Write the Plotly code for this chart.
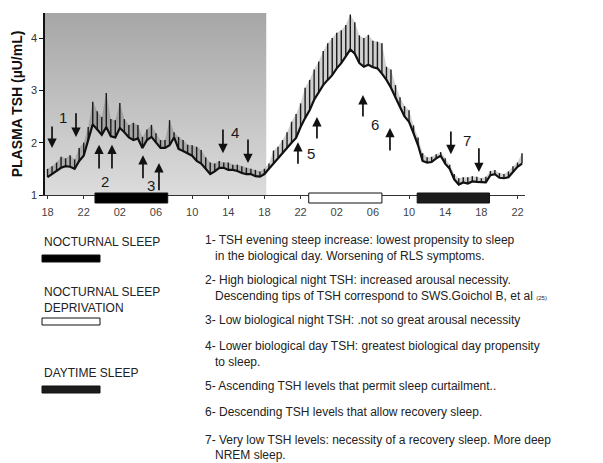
import plotly.graph_objects as go

# ---------------- data ----------------
# hours since 18:00 of day 1, every 30 min
hours = [i * 0.5 for i in range(106)]
tick_vals = [0, 4, 8, 12, 16, 20, 24, 28, 32, 36, 40, 44, 48, 52]
tick_text = ["18", "22", "02", "06", "10", "14", "18", "22", "02", "06", "10", "14", "18", "22"]

tsh_mean = [1.34, 1.40, 1.45, 1.52, 1.55, 1.54, 1.50, 1.65, 1.75, 2.05,
            2.35, 2.25, 2.15, 2.30, 2.12, 2.10, 2.28, 2.20, 2.10, 2.05,
            2.08, 1.90, 2.05, 2.11, 2.00, 1.90, 1.90, 1.95, 2.10, 1.88,
            1.84, 1.80, 1.75, 1.65, 1.60, 1.50, 1.40, 1.45, 1.52, 1.52,
            1.48, 1.48, 1.46, 1.42, 1.40, 1.40, 1.36, 1.35, 1.40, 1.50,
            1.60, 1.72, 1.80, 1.90, 2.00, 2.09, 2.30, 2.47, 2.62, 2.82,
            2.95, 3.10, 3.20, 3.29, 3.42, 3.52, 3.65, 3.78, 3.70, 3.52,
            3.45, 3.49, 3.44, 3.42, 3.32, 3.20, 3.05, 2.85, 2.68, 2.50,
            2.40, 2.18, 1.95, 1.65, 1.62, 1.63, 1.70, 1.75, 1.60, 1.50,
            1.30, 1.20, 1.24, 1.22, 1.26, 1.25, 1.24, 1.24, 1.38, 1.40,
            1.33, 1.32, 1.34, 1.45, 1.54, 1.60]
tsh_upper = [1.50, 1.55, 1.62, 1.73, 1.70, 1.76, 1.68, 1.90, 2.00, 2.30,
             2.78, 2.60, 2.49, 2.95, 2.45, 2.43, 2.76, 2.45, 2.34, 2.38,
             2.34, 2.11, 2.25, 2.34, 2.18, 2.05, 2.05, 2.43, 2.20, 2.11,
             2.05, 1.96, 1.95, 1.92, 1.86, 1.72, 1.62, 1.60, 1.65, 1.62,
             1.62, 1.58, 1.58, 1.55, 1.52, 1.50, 1.48, 1.45, 1.50, 1.60,
             1.85, 1.92, 2.05, 2.20, 2.40, 2.55, 2.75, 3.05, 3.20, 3.40,
             3.55, 3.75, 3.90, 4.00, 4.10, 4.15, 4.25, 4.45, 4.30, 4.05,
             4.00, 4.06, 3.95, 3.93, 3.90, 3.45, 3.40, 3.10, 2.87, 2.70,
             2.62, 2.33, 2.10, 1.80, 1.72, 1.73, 1.78, 1.82, 1.70, 1.58,
             1.40, 1.32, 1.34, 1.34, 1.36, 1.35, 1.32, 1.35, 1.46, 1.48,
             1.42, 1.40, 1.45, 1.55, 1.62, 1.80]

# sleep periods (start hour, end hour)
night_sleep = (5.25, 13.3)
sleep_deprivation = (28.9, 37.0)
daytime_sleep = (40.9, 48.9)
baseline_shade_end = 24.2

# arrows: (hour, tail value, head value)
arrows = [(0.5, 2.34, 1.90), (3.15, 2.59, 2.11),
          (5.70, 1.48, 1.96), (7.13, 1.48, 1.96),
          (10.56, 1.29, 1.76), (12.33, 1.06, 1.61),
          (19.41, 2.28, 1.80), (22.18, 2.09, 1.61),
          (27.71, 1.57, 2.01), (29.81, 2.05, 2.49),
          (34.9, 2.47, 2.91), (37.89, 1.82, 2.28),
          (44.63, 2.24, 1.78), (47.73, 1.92, 1.44)]
arrow_labels = [("1", 1.71, 2.49), ("2", 6.36, 1.25), ("3", 11.45, 1.19),
                ("4", 20.74, 2.20), ("5", 29.15, 1.80), ("6", 36.23, 2.34),
                ("7", 46.4, 2.05)]

legend_items = ["NOCTURNAL SLEEP", "NOCTURNAL SLEEP<br>DEPRIVATION", "DAYTIME SLEEP"]
notes = [
    "1- TSH evening steep increase: lowest propensity to sleep",
    "   in the biological day. Worsening of RLS symptoms.",
    "2- High biological night TSH: increased arousal necessity.",
    "   Descending tips of TSH correspond to SWS.Goichol B, et al <span style='font-size:6px'>(25)</span>",
    "3- Low biological night TSH: .not so great arousal necessity",
    "4- Lower biological day TSH: greatest biological day propensity",
    "   to sleep.",
    "5- Ascending TSH levels that permit sleep curtailment..",
    "6- Descending TSH levels that allow recovery sleep.",
    "7- Very low TSH levels: necessity of a recovery sleep. More deep",
    "   NREM sleep.",
]

# ---------------- layout geometry ----------------
W, H = 603, 463
L, R, T, B = 45, 525, 13, 195
X_RANGE = [-0.28, 52.83]
Y_RANGE = [1, 4.478]


def px(x):
    return (x - L) / (R - L)


def py(y):
    return (B - y) / (B - T)


fig = go.Figure()

# gradient background for the baseline period
fig.add_trace(go.Scatter(
    x=[X_RANGE[0], baseline_shade_end, baseline_shade_end, X_RANGE[0], X_RANGE[0]],
    y=[Y_RANGE[0], Y_RANGE[0], Y_RANGE[1], Y_RANGE[1], Y_RANGE[0]],
    mode="none", fill="toself",
    fillgradient=dict(type="vertical",
                      colorscale=[[0, "#dcdcdc"], [1, "#a6a6a6"]]),
    hoverinfo="skip", showlegend=False))

# upper envelope (used for the light band fill)
fig.add_trace(go.Scatter(
    x=hours, y=tsh_upper, mode="lines", line=dict(color="rgba(0,0,0,0)", width=0),
    hoverinfo="skip", showlegend=False))

# TSH curve with upward SEM hatching
fig.add_trace(go.Scatter(
    x=hours, y=tsh_mean, mode="lines",
    line=dict(color="#111", width=2.2),
    fill="tonexty", fillcolor="rgba(40,40,40,0.22)",
    error_y=dict(type="data", symmetric=False,
                 array=[u - m for u, m in zip(tsh_upper, tsh_mean)],
                 arrayminus=[0] * len(tsh_mean),
                 width=0, thickness=1.4, color="#1a1a1a"),
    showlegend=False))

shapes = []
# sleep bars straddling the x axis
for (s, e), fc in [(night_sleep, "black"), (sleep_deprivation, "white"), (daytime_sleep, "#1c1c1c")]:
    shapes.append(dict(type="rect", xref="x", yref="paper", x0=s, x1=e,
                       y0=py(203), y1=py(193), fillcolor=fc,
                       line=dict(color="#111", width=1)))

# legend bars
for y0, fc in [(255, "black"), (318, "white"), (386, "#1c1c1c")]:
    shapes.append(dict(type="rect", xref="paper", yref="paper",
                       x0=px(42), x1=px(100), y0=py(y0 + 7), y1=py(y0),
                       fillcolor=fc, line=dict(color="#111", width=1)))

annotations = []
for (hx, tail, head) in arrows:
    annotations.append(dict(x=hx, y=head, ax=hx, ay=tail, xref="x", yref="y",
                            axref="x", ayref="y", showarrow=True, arrowhead=2,
                            arrowsize=1.1, arrowwidth=1.7, arrowcolor="#111", text=""))
for (lab, hx, v) in arrow_labels:
    annotations.append(dict(x=hx, y=v, xref="x", yref="y", text=lab, showarrow=False,
                            font=dict(size=15, color="#1a1a1a", family="Liberation Sans")))

# left legend texts
for txt, ytop in zip(legend_items, [242, 290, 373]):
    annotations.append(dict(x=px(42), y=py(ytop), xref="paper", yref="paper",
                            xanchor="left", yanchor="top" if "<br>" in txt else "middle",
                            text=txt, showarrow=False, align="left",
                            yshift=7 if "<br>" in txt else 0,
                            font=dict(size=12, color="#222", family="Liberation Sans")))

# right column notes
note_y = [240, 256, 280, 296, 320, 346, 362, 386, 412, 440, 455]
for txt, yy in zip(notes, note_y):
    indent = txt.startswith("   ")
    annotations.append(dict(x=px(213 if indent else 203), y=py(yy), xref="paper", yref="paper",
                            xanchor="left", yanchor="middle", text=txt.strip(),
                            showarrow=False, align="left",
                            font=dict(size=12, color="#222", family="Liberation Sans")))

fig.update_layout(
    width=W, height=H,
    margin=dict(l=L, r=W - R, t=T, b=H - B, pad=0),
    paper_bgcolor="white", plot_bgcolor="white",
    shapes=shapes, annotations=annotations,
    xaxis=dict(range=X_RANGE, tickvals=tick_vals, ticktext=tick_text,
               showgrid=False, zeroline=False, showline=True, linecolor="#333",
               linewidth=1, ticks="outside", ticklen=3, tickcolor="#333",
               ticklabelstandoff=4,
               tickfont=dict(size=11, color="#444", family="Liberation Sans")),
    yaxis=dict(range=Y_RANGE, tickvals=[1, 2, 3, 4], showgrid=False, zeroline=False,
               showline=True, linecolor="#111", linewidth=1.5, ticks="outside",
               ticklen=4, tickcolor="#111",
               tickfont=dict(size=11, color="#333", family="Liberation Sans"),
               title=dict(text="<b>PLASMA TSH (µU/mL)</b>", standoff=5,
                          font=dict(size=14, color="#111", family="Liberation Sans"))),
)

fig.write_html("out.html", config={"displayModeBar": False},
               post_script="document.body.style.margin='0px';")
